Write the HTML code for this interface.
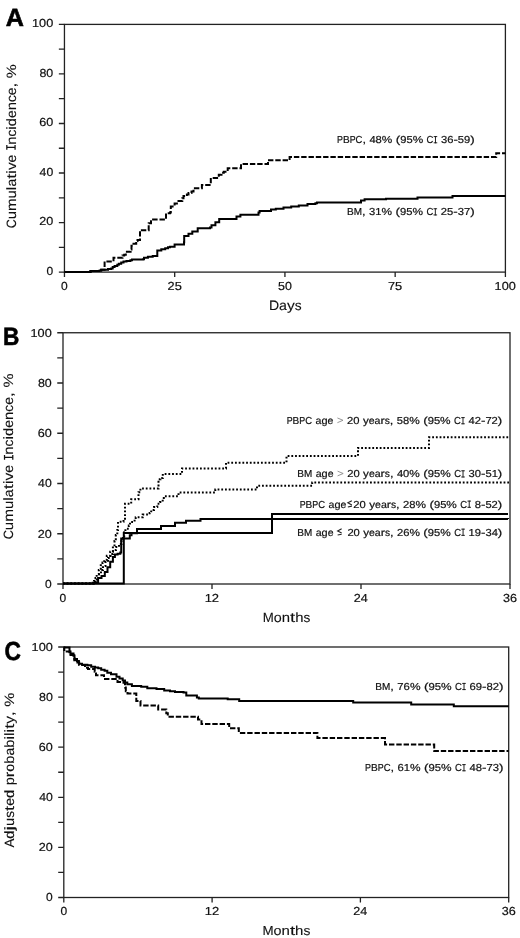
<!DOCTYPE html>
<html><head><meta charset="utf-8"><style>
html,body{margin:0;padding:0;background:#fff;}
svg{display:block;}
text{font-family:"Liberation Sans", sans-serif;text-rendering:geometricPrecision;}
svg{will-change:transform;}
</style></head><body>
<svg width="520" height="938" viewBox="0 0 520 938">
<rect width="520" height="938" fill="#fff"/>
<rect x="64.45" y="24.4" width="440.95" height="247.70" fill="none" stroke="#222" stroke-width="1.3"/>
<path d="M58.85,272.10H64.45M58.85,247.33H64.45M58.85,222.56H64.45M58.85,197.79H64.45M58.85,173.02H64.45M58.85,148.25H64.45M58.85,123.48H64.45M58.85,98.71H64.45M58.85,73.94H64.45M58.85,49.17H64.45M58.85,24.40H64.45M64.45,272.10V277.10M174.69,272.10V277.10M284.93,272.10V277.10M395.16,272.10V277.10M505.40,272.10V277.10" stroke="#222" stroke-width="1.3" fill="none"/>
<rect x="63.0" y="332.75" width="447.00" height="251.25" fill="none" stroke="#222" stroke-width="1.3"/>
<path d="M57.25,584.00H63.00M57.25,558.88H63.00M57.25,533.75H63.00M57.25,508.62H63.00M57.25,483.50H63.00M57.25,458.38H63.00M57.25,433.25H63.00M57.25,408.12H63.00M57.25,383.00H63.00M57.25,357.88H63.00M57.25,332.75H63.00M63.00,584.00V589.00M212.00,584.00V589.00M361.00,584.00V589.00M510.00,584.00V589.00" stroke="#222" stroke-width="1.3" fill="none"/>
<rect x="63.8" y="647.0" width="444.90" height="250.50" fill="none" stroke="#222" stroke-width="1.3"/>
<path d="M58.20,897.50H63.80M58.20,872.45H63.80M58.20,847.40H63.80M58.20,822.35H63.80M58.20,797.30H63.80M58.20,772.25H63.80M58.20,747.20H63.80M58.20,722.15H63.80M58.20,697.10H63.80M58.20,672.05H63.80M58.20,647.00H63.80M63.80,897.50V902.50M212.10,897.50V902.50M360.40,897.50V902.50M508.70,897.50V902.50" stroke="#222" stroke-width="1.3" fill="none"/>
<path d="M64.4,272.0H90.5V271.0H99.6V270.4H101.2V269.8H108.0V269.0H111.2V268.5H112.7V267.1H114.6V266.0H117.3V264.8H118.8V263.7H121.2V262.5H123.5V261.4H126.5V261.0H130.4V260.2H132.0V259.5H143.0V259.2H144.0V257.8H147.9V256.8H152.7V255.9H157.3V250.6H161.3V249.2H165.2V248.2H168.0V247.2H170.0V246.7H174.6V244.4H184.0V242.2H184.2V236.0H188.5V233.7H192.3V231.4H197.7V228.2H210.0V227.5H211.5V225.2H215.4V222.2H219.2V219.0H236.5V216.4H240.4V214.8H258.5V212.5H259.6V211.0H271.0V209.4H275.8V208.7H283.5V207.4H291.2V206.4H298.8V205.6H307.5V204.0H315.4V203.2H317.0V202.5H361.0V200.4H364.6V199.2H386.0V198.8H417.5V197.4H452.5V196.0H505.4V196.0" fill="none" stroke="#000" stroke-width="2"/>
<path d="M64.4,272.0H90.5V271.0H99.6V270.4H101.2V269.8H104.6V261.4H113.5V257.7H122.5V255.4H124.2V254.8H125.8V251.7H130.6V249.6H131.5V245.8H133.5V243.7H136.2V241.0H137.5V240.0H140.0V230.2H148.7V223.3H151.0V221.2H153.1V219.6H166.0V213.2H170.0V212.5H170.8V206.4H174.6V203.4H178.5V201.0H182.3V198.2H183.5V196.0H186.9V194.4H188.5V192.9H191.5V191.4H193.5V188.3H201.9V185.0H210.8V177.9H218.8V174.8H221.5V172.7H223.8V171.7H227.7V168.2H241.0V164.0H268.0V160.2H289.6V156.9H496.2V153.3H505.4V153.3" fill="none" stroke="#000" stroke-width="2" stroke-dasharray="5.4 1.9" stroke-dashoffset="5.80"/>
<path d="M63.0,583.6H94.0V581.0H95.5V578.0H96.7V574.6H98.8V569.9H100.8V565.2H102.5V562.5H104.2V559.8H106.8V555.8H110.2V551.7H112.9V546.3H114.5V541.0H115.8V535.0H117.3V530.0H118.0V521.8H123.5V520.0H125.0V503.8H131.2V499.2H138.5V492.3H140.4V488.5H158.5V479.2H160.5V478.0H162.8V474.0H182.0V468.5H226.0V462.7H286.5V456.0H358.0V447.9H429.0V437.3H509.2V437.3" fill="none" stroke="#000" stroke-width="2" stroke-dasharray="1.8 1.91" stroke-dashoffset="0.20"/>
<path d="M63.0,583.6H95.0V582.0H97.0V578.0H99.0V574.0H101.0V570.0H103.0V566.0H105.5V562.0H108.0V558.0H110.5V554.0H113.0V550.0H116.0V547.0H119.0V544.0H121.5V541.0H123.0V538.0H124.2V532.3H125.4V528.8H128.8V525.4H130.0V521.9H134.6V519.6H135.7V517.3H142.7V514.6H149.6V513.0H151.2V510.0H154.0V507.0H157.3V503.8H160.0V502.0H162.7V499.0H163.8V496.3H178.5V492.5H215.3V489.6H257.0V485.8H312.2V482.5H509.0V482.5" fill="none" stroke="#000" stroke-width="2" stroke-dasharray="1.8 1.91" stroke-dashoffset="3.69"/>
<path d="M63.0,583.6H123.8V533.0H272.0V514.0H508.0V514.0" fill="none" stroke="#000" stroke-width="2"/>
<path d="M63.0,583.6H92.7V582.7H98.1V578.0H101.5V576.0H104.8V571.9H107.5V567.2H110.2V561.8H112.9V557.1H114.9V554.4H117.6V553.7H120.3V552.4H121.2V538.6H129.8V535.2H131.5V533.2H137.0V529.0H161.0V526.0H175.0V522.8H186.0V520.8H200.5V518.9H508.0V519.1" fill="none" stroke="#000" stroke-width="2"/>
<path d="M63.8,647.4H69.5V651.5H70.5V653.5H73.5V655.5H74.5V659.0H77.0V661.0H78.9V663.7H82.0V664.7H87.4V665.3H91.2V666.7H95.0V667.5H98.2V668.3H101.2V669.7H104.6V670.7H107.3V672.8H111.0V674.3H116.5V676.7H119.5V678.5H122.7V680.5H125.0V682.5H127.3V684.3H131.9V685.9H141.2V686.7H147.3V688.2H156.5V689.0H164.2V690.5H170.0V691.3H175.0V692.0H183.5V692.6H186.3V695.5H196.9V697.4H198.8V698.4H227.7V699.3H239.2V700.9H353.2V702.6H411.2V704.4H453.8V706.3H508.7V706.3" fill="none" stroke="#000" stroke-width="2"/>
<path d="M63.8,647.4H64.3V651.6H69.5V655.1H73.6V658.0H74.3V660.3H77.4V662.5H79.2V665.1H85.0V667.8H88.0V669.0H94.7V671.7H96.0V675.3H104.0V679.0H117.5V682.0H123.5V682.8H125.0V687.4H125.8V691.3H127.5V693.5H136.3V701.0H140.5V705.5H158.2V709.5H166.3V713.3H167.8V716.7H196.0V716.7H198.0V719.5H201.5V724.0H229.2V728.2H238.8V732.9H317.4V738.0H385.0V744.4H434.2V751.0H508.7V751.0" fill="none" stroke="#000" stroke-width="2" stroke-dasharray="5.4 1.9" stroke-dashoffset="1.20"/>
<text transform="translate(6.10,25.60) translate(-0.39,0) scale(1.0110,1)" font-size="24.89" font-weight="bold" fill="#000" stroke="#000" stroke-width="0.6">A</text>
<text transform="translate(4.30,344.60) translate(-1.41,0) scale(0.9045,1)" font-size="25.03" font-weight="bold" fill="#000" stroke="#000" stroke-width="0.6">B</text>
<text transform="translate(5.20,660.20) translate(-0.71,0) scale(0.8750,1)" font-size="26.03" font-weight="bold" fill="#000" stroke="#000" stroke-width="0.6">C</text>
<path transform="translate(337.80,143.26)" d="M97.67,-7.12V0M95.91,-6.66H99.43M95.91,-0.46H99.43" fill="none" stroke="#111" stroke-width="0.93"/>
<g transform="translate(337.80,143.26)" font-size="10.13" fill="#111" stroke="#111" stroke-width="0.2"><text transform="translate(-0.69,0) scale(0.872,1)">P</text><text transform="translate(5.20,0) scale(0.993,1)">B</text><text transform="translate(11.91,0) scale(0.872,1)">P</text><text transform="translate(17.80,0) scale(0.933,1)">C</text><text transform="translate(24.62,0) scale(1.264,1)">,</text><text transform="translate(31.61,0) scale(1.103,1)">4</text><text transform="translate(37.82,0) scale(1.103,1)">8</text><text transform="translate(44.04,0) scale(1.167,1)">%</text><text transform="translate(57.98,0) scale(1.316,1)">(</text><text transform="translate(62.42,0) scale(1.103,1)">9</text><text transform="translate(68.63,0) scale(1.103,1)">5</text><text transform="translate(74.85,0) scale(1.167,1)">%</text><text transform="translate(88.79,0) scale(0.933,1)">C</text><text transform="translate(103.17,0) scale(1.103,1)">3</text><text transform="translate(109.38,0) scale(1.103,1)">6</text><text transform="translate(115.59,0) scale(1.316,1)">-</text><text transform="translate(120.03,0) scale(1.103,1)">5</text><text transform="translate(126.24,0) scale(1.103,1)">9</text><text transform="translate(132.45,0) scale(1.316,1)">)</text></g>
<path transform="translate(347.80,215.41)" d="M87.53,-7.12V0M85.76,-6.65H89.30M85.76,-0.47H89.30" fill="none" stroke="#111" stroke-width="0.93"/>
<g transform="translate(347.80,215.41)" font-size="10.13" fill="#111" stroke="#111" stroke-width="0.2"><text transform="translate(-0.79,0) scale(0.996,1)">B</text><text transform="translate(5.94,0) scale(0.980,1)">M</text><text transform="translate(14.21,0) scale(1.268,1)">,</text><text transform="translate(21.22,0) scale(1.107,1)">3</text><text transform="translate(27.46,0) scale(1.107,1)">1</text><text transform="translate(33.69,0) scale(1.172,1)">%</text><text transform="translate(47.69,0) scale(1.321,1)">(</text><text transform="translate(52.15,0) scale(1.107,1)">9</text><text transform="translate(58.38,0) scale(1.107,1)">5</text><text transform="translate(64.62,0) scale(1.172,1)">%</text><text transform="translate(78.62,0) scale(0.936,1)">C</text><text transform="translate(93.04,0) scale(1.107,1)">2</text><text transform="translate(99.28,0) scale(1.107,1)">5</text><text transform="translate(105.51,0) scale(1.321,1)">-</text><text transform="translate(109.97,0) scale(1.107,1)">3</text><text transform="translate(116.20,0) scale(1.107,1)">7</text><text transform="translate(122.44,0) scale(1.321,1)">)</text></g>
<path transform="translate(376.00,690.06)" d="M88.02,-7.12V0M86.24,-6.65H89.79M86.24,-0.47H89.79" fill="none" stroke="#111" stroke-width="0.94"/>
<g transform="translate(376.00,690.06)" font-size="10.13" fill="#111" stroke="#111" stroke-width="0.2"><text transform="translate(-0.79,0) scale(1.002,1)">B</text><text transform="translate(5.97,0) scale(0.985,1)">M</text><text transform="translate(14.29,0) scale(1.275,1)">,</text><text transform="translate(21.34,0) scale(1.113,1)">7</text><text transform="translate(27.61,0) scale(1.113,1)">6</text><text transform="translate(33.88,0) scale(1.178,1)">%</text><text transform="translate(47.96,0) scale(1.328,1)">(</text><text transform="translate(52.44,0) scale(1.113,1)">9</text><text transform="translate(58.71,0) scale(1.113,1)">5</text><text transform="translate(64.98,0) scale(1.178,1)">%</text><text transform="translate(79.05,0) scale(0.942,1)">C</text><text transform="translate(93.56,0) scale(1.113,1)">6</text><text transform="translate(99.83,0) scale(1.113,1)">9</text><text transform="translate(106.10,0) scale(1.328,1)">-</text><text transform="translate(110.58,0) scale(1.113,1)">8</text><text transform="translate(116.85,0) scale(1.113,1)">2</text><text transform="translate(123.12,0) scale(1.328,1)">)</text></g>
<path transform="translate(365.80,771.26)" d="M98.18,-7.12V0M96.41,-6.65H99.94M96.41,-0.47H99.94" fill="none" stroke="#111" stroke-width="0.93"/>
<g transform="translate(365.80,771.26)" font-size="10.13" fill="#111" stroke="#111" stroke-width="0.2"><text transform="translate(-0.69,0) scale(0.877,1)">P</text><text transform="translate(5.23,0) scale(0.998,1)">B</text><text transform="translate(11.97,0) scale(0.877,1)">P</text><text transform="translate(17.89,0) scale(0.938,1)">C</text><text transform="translate(24.75,0) scale(1.270,1)">,</text><text transform="translate(31.78,0) scale(1.109,1)">6</text><text transform="translate(38.02,0) scale(1.109,1)">1</text><text transform="translate(44.26,0) scale(1.173,1)">%</text><text transform="translate(58.28,0) scale(1.323,1)">(</text><text transform="translate(62.74,0) scale(1.109,1)">9</text><text transform="translate(68.99,0) scale(1.109,1)">5</text><text transform="translate(75.23,0) scale(1.173,1)">%</text><text transform="translate(89.25,0) scale(0.938,1)">C</text><text transform="translate(103.70,0) scale(1.109,1)">4</text><text transform="translate(109.94,0) scale(1.109,1)">8</text><text transform="translate(116.18,0) scale(1.323,1)">-</text><text transform="translate(120.64,0) scale(1.109,1)">7</text><text transform="translate(126.89,0) scale(1.109,1)">3</text><text transform="translate(133.13,0) scale(1.323,1)">)</text></g>
<path transform="translate(287.40,424.26)" d="M50.01,-6.30L55.61,-3.95L50.01,-1.60" fill="none" stroke="#8a8a8a" stroke-width="0.9"/>
<path transform="translate(287.40,424.26)" d="M175.59,-7.12V0M173.83,-6.65H177.35M173.83,-0.47H177.35" fill="none" stroke="#111" stroke-width="0.93"/>
<g transform="translate(287.40,424.26)" font-size="10.13" fill="#111" stroke="#111" stroke-width="0.2"><text transform="translate(-0.69,0) scale(0.874,1)">P</text><text transform="translate(5.21,0) scale(0.995,1)">B</text><text transform="translate(11.93,0) scale(0.874,1)">P</text><text transform="translate(17.84,0) scale(0.935,1)">C</text><text transform="translate(28.12,0) scale(1.045,1)">a</text><text transform="translate(34.01,0) scale(1.083,1)">g</text><text transform="translate(40.11,0) scale(1.036,1)">e</text><text transform="translate(59.68,0) scale(1.105,1)">2</text><text transform="translate(65.91,0) scale(1.105,1)">0</text><text transform="translate(75.58,0) scale(1.145,1)">y</text><text transform="translate(81.37,0) scale(1.036,1)">e</text><text transform="translate(87.21,0) scale(1.045,1)">a</text><text transform="translate(93.10,0) scale(1.240,1)">r</text><text transform="translate(97.27,0) scale(1.008,1)">s</text><text transform="translate(102.38,0) scale(1.266,1)">,</text><text transform="translate(109.38,0) scale(1.105,1)">5</text><text transform="translate(115.61,0) scale(1.105,1)">8</text><text transform="translate(121.84,0) scale(1.170,1)">%</text><text transform="translate(135.81,0) scale(1.319,1)">(</text><text transform="translate(140.26,0) scale(1.105,1)">9</text><text transform="translate(146.49,0) scale(1.105,1)">5</text><text transform="translate(152.71,0) scale(1.170,1)">%</text><text transform="translate(166.69,0) scale(0.935,1)">C</text><text transform="translate(181.09,0) scale(1.105,1)">4</text><text transform="translate(187.32,0) scale(1.105,1)">2</text><text transform="translate(193.55,0) scale(1.319,1)">-</text><text transform="translate(197.99,0) scale(1.105,1)">7</text><text transform="translate(204.22,0) scale(1.105,1)">2</text><text transform="translate(210.44,0) scale(1.319,1)">)</text></g>
<path transform="translate(298.10,477.46)" d="M39.48,-6.30L45.08,-3.95L39.48,-1.60" fill="none" stroke="#8a8a8a" stroke-width="0.9"/>
<path transform="translate(298.10,477.46)" d="M164.93,-7.12V0M163.17,-6.66H166.69M163.17,-0.46H166.69" fill="none" stroke="#111" stroke-width="0.93"/>
<g transform="translate(298.10,477.46)" font-size="10.13" fill="#111" stroke="#111" stroke-width="0.2"><text transform="translate(-0.79,0) scale(0.994,1)">B</text><text transform="translate(5.93,0) scale(0.978,1)">M</text><text transform="translate(17.61,0) scale(1.044,1)">a</text><text transform="translate(23.49,0) scale(1.082,1)">g</text><text transform="translate(29.59,0) scale(1.035,1)">e</text><text transform="translate(49.14,0) scale(1.104,1)">2</text><text transform="translate(55.36,0) scale(1.104,1)">0</text><text transform="translate(65.02,0) scale(1.144,1)">y</text><text transform="translate(70.81,0) scale(1.035,1)">e</text><text transform="translate(76.64,0) scale(1.044,1)">a</text><text transform="translate(82.52,0) scale(1.238,1)">r</text><text transform="translate(86.70,0) scale(1.007,1)">s</text><text transform="translate(91.79,0) scale(1.265,1)">,</text><text transform="translate(98.79,0) scale(1.104,1)">4</text><text transform="translate(105.01,0) scale(1.104,1)">0</text><text transform="translate(111.23,0) scale(1.169,1)">%</text><text transform="translate(125.19,0) scale(1.317,1)">(</text><text transform="translate(129.64,0) scale(1.104,1)">9</text><text transform="translate(135.86,0) scale(1.104,1)">5</text><text transform="translate(142.08,0) scale(1.169,1)">%</text><text transform="translate(156.04,0) scale(0.934,1)">C</text><text transform="translate(170.43,0) scale(1.104,1)">3</text><text transform="translate(176.65,0) scale(1.104,1)">0</text><text transform="translate(182.87,0) scale(1.317,1)">-</text><text transform="translate(187.31,0) scale(1.104,1)">5</text><text transform="translate(193.53,0) scale(1.104,1)">1</text><text transform="translate(199.75,0) scale(1.317,1)">)</text></g>
<path transform="translate(300.40,507.76)" d="M51.45,-7.00L47.45,-4.90L51.45,-2.80M47.45,-0.80L51.45,-1.60" fill="none" stroke="#222" stroke-width="1.1"/>
<path transform="translate(300.40,507.76)" d="M168.83,-7.12V0M167.07,-6.66H170.59M167.07,-0.46H170.59" fill="none" stroke="#111" stroke-width="0.93"/>
<g transform="translate(300.40,507.76)" font-size="10.13" fill="#111" stroke="#111" stroke-width="0.2"><text transform="translate(-0.69,0) scale(0.874,1)">P</text><text transform="translate(5.21,0) scale(0.994,1)">B</text><text transform="translate(11.93,0) scale(0.874,1)">P</text><text transform="translate(17.83,0) scale(0.935,1)">C</text><text transform="translate(28.11,0) scale(1.045,1)">a</text><text transform="translate(33.99,0) scale(1.083,1)">g</text><text transform="translate(40.09,0) scale(1.035,1)">e</text><text transform="translate(52.97,0) scale(1.105,1)">2</text><text transform="translate(59.19,0) scale(1.105,1)">0</text><text transform="translate(68.86,0) scale(1.144,1)">y</text><text transform="translate(74.65,0) scale(1.035,1)">e</text><text transform="translate(80.48,0) scale(1.045,1)">a</text><text transform="translate(86.37,0) scale(1.239,1)">r</text><text transform="translate(90.55,0) scale(1.007,1)">s</text><text transform="translate(95.65,0) scale(1.266,1)">,</text><text transform="translate(102.65,0) scale(1.105,1)">2</text><text transform="translate(108.87,0) scale(1.105,1)">8</text><text transform="translate(115.10,0) scale(1.170,1)">%</text><text transform="translate(129.07,0) scale(1.318,1)">(</text><text transform="translate(133.51,0) scale(1.105,1)">9</text><text transform="translate(139.74,0) scale(1.105,1)">5</text><text transform="translate(145.96,0) scale(1.170,1)">%</text><text transform="translate(159.93,0) scale(0.935,1)">C</text><text transform="translate(174.33,0) scale(1.105,1)">8</text><text transform="translate(180.55,0) scale(1.318,1)">-</text><text transform="translate(185.00,0) scale(1.105,1)">5</text><text transform="translate(191.22,0) scale(1.105,1)">2</text><text transform="translate(197.45,0) scale(1.318,1)">)</text></g>
<path transform="translate(298.10,535.81)" d="M43.54,-7.00L39.54,-4.90L43.54,-2.80M39.54,-0.80L43.54,-1.60" fill="none" stroke="#222" stroke-width="1.1"/>
<path transform="translate(298.10,535.81)" d="M164.97,-7.12V0M163.21,-6.66H166.73M163.21,-0.46H166.73" fill="none" stroke="#111" stroke-width="0.93"/>
<g transform="translate(298.10,535.81)" font-size="10.13" fill="#111" stroke="#111" stroke-width="0.2"><text transform="translate(-0.79,0) scale(0.993,1)">B</text><text transform="translate(5.92,0) scale(0.977,1)">M</text><text transform="translate(17.59,0) scale(1.043,1)">a</text><text transform="translate(23.47,0) scale(1.081,1)">g</text><text transform="translate(29.56,0) scale(1.034,1)">e</text><text transform="translate(49.29,0) scale(1.103,1)">2</text><text transform="translate(55.50,0) scale(1.103,1)">0</text><text transform="translate(65.15,0) scale(1.142,1)">y</text><text transform="translate(70.94,0) scale(1.034,1)">e</text><text transform="translate(76.76,0) scale(1.043,1)">a</text><text transform="translate(82.64,0) scale(1.237,1)">r</text><text transform="translate(86.81,0) scale(1.006,1)">s</text><text transform="translate(91.90,0) scale(1.264,1)">,</text><text transform="translate(98.89,0) scale(1.103,1)">2</text><text transform="translate(105.11,0) scale(1.103,1)">6</text><text transform="translate(111.32,0) scale(1.168,1)">%</text><text transform="translate(125.27,0) scale(1.316,1)">(</text><text transform="translate(129.71,0) scale(1.103,1)">9</text><text transform="translate(135.92,0) scale(1.103,1)">5</text><text transform="translate(142.13,0) scale(1.168,1)">%</text><text transform="translate(156.08,0) scale(0.933,1)">C</text><text transform="translate(170.46,0) scale(1.103,1)">1</text><text transform="translate(176.67,0) scale(1.103,1)">9</text><text transform="translate(182.89,0) scale(1.316,1)">-</text><text transform="translate(187.32,0) scale(1.103,1)">3</text><text transform="translate(193.54,0) scale(1.103,1)">4</text><text transform="translate(199.75,0) scale(1.316,1)">)</text></g>
<g transform="translate(270.00,309.60)" font-size="13.65" fill="#111" stroke="#111" stroke-width="0.1"><text transform="translate(-1.10,0) scale(1.030,1)">D</text><text transform="translate(9.06,0) scale(1.043,1)">a</text><text transform="translate(16.97,0) scale(1.142,1)">y</text><text transform="translate(24.77,0) scale(1.005,1)">s</text></g>
<g transform="translate(263.80,621.70)" font-size="13.51" fill="#111" stroke="#111" stroke-width="0.1"><text transform="translate(-1.04,0) scale(0.981,1)">M</text><text transform="translate(10.01,0) scale(1.058,1)">o</text><text transform="translate(17.96,0) scale(1.103,1)">n</text><text transform="translate(26.25,0) scale(1.375,1)">t</text><text transform="translate(31.41,0) scale(1.103,1)">h</text><text transform="translate(39.70,0) scale(1.010,1)">s</text></g>
<g transform="translate(263.50,934.60)" font-size="13.08" fill="#111" stroke="#111" stroke-width="0.1"><text transform="translate(-1.04,0) scale(1.020,1)">M</text><text transform="translate(10.07,0) scale(1.100,1)">o</text><text transform="translate(18.07,0) scale(1.147,1)">n</text><text transform="translate(26.42,0) scale(1.429,1)">t</text><text transform="translate(31.61,0) scale(1.147,1)">h</text><text transform="translate(39.96,0) scale(1.050,1)">s</text></g>
<path transform="translate(15.70,227.70) rotate(-90)" d="M80.30,-9.50V0M77.96,-8.88H82.64M77.96,-0.62H82.64" fill="none" stroke="#111" stroke-width="1.23"/>
<g transform="translate(15.70,227.70) rotate(-90)" font-size="13.51" fill="#111" stroke="#111" stroke-width="0.1"><text transform="translate(-0.59,0) scale(0.929,1)">C</text><text transform="translate(8.48,0) scale(1.093,1)">u</text><text transform="translate(16.69,0) scale(1.122,1)">m</text><text transform="translate(29.32,0) scale(1.093,1)">u</text><text transform="translate(37.54,0) scale(1.187,1)">l</text><text transform="translate(41.10,0) scale(1.039,1)">a</text><text transform="translate(48.91,0) scale(1.363,1)">t</text><text transform="translate(54.02,0) scale(1.187,1)">i</text><text transform="translate(57.58,0) scale(1.137,1)">v</text><text transform="translate(65.27,0) scale(1.029,1)">e</text><text transform="translate(83.03,0) scale(1.093,1)">n</text><text transform="translate(91.25,0) scale(1.001,1)">c</text><text transform="translate(98.01,0) scale(1.187,1)">i</text><text transform="translate(101.57,0) scale(1.076,1)">d</text><text transform="translate(109.66,0) scale(1.029,1)">e</text><text transform="translate(117.40,0) scale(1.093,1)">n</text><text transform="translate(125.61,0) scale(1.001,1)">c</text><text transform="translate(132.38,0) scale(1.029,1)">e</text><text transform="translate(140.11,0) scale(1.258,1)">,</text><text transform="translate(149.40,0) scale(1.163,1)">%</text></g>
<path transform="translate(13.40,538.75) rotate(-90)" d="M81.26,-9.50V0M78.90,-8.88H83.63M78.90,-0.62H83.63" fill="none" stroke="#111" stroke-width="1.25"/>
<g transform="translate(13.40,538.75) rotate(-90)" font-size="13.51" fill="#111" stroke="#111" stroke-width="0.1"><text transform="translate(-0.60,0) scale(0.940,1)">C</text><text transform="translate(8.58,0) scale(1.106,1)">u</text><text transform="translate(16.89,0) scale(1.136,1)">m</text><text transform="translate(29.67,0) scale(1.106,1)">u</text><text transform="translate(37.99,0) scale(1.201,1)">l</text><text transform="translate(41.59,0) scale(1.051,1)">a</text><text transform="translate(49.49,0) scale(1.379,1)">t</text><text transform="translate(54.67,0) scale(1.201,1)">i</text><text transform="translate(58.27,0) scale(1.151,1)">v</text><text transform="translate(66.05,0) scale(1.042,1)">e</text><text transform="translate(84.03,0) scale(1.106,1)">n</text><text transform="translate(92.34,0) scale(1.013,1)">c</text><text transform="translate(99.19,0) scale(1.201,1)">i</text><text transform="translate(102.79,0) scale(1.089,1)">d</text><text transform="translate(110.98,0) scale(1.042,1)">e</text><text transform="translate(118.80,0) scale(1.106,1)">n</text><text transform="translate(127.12,0) scale(1.013,1)">c</text><text transform="translate(133.96,0) scale(1.042,1)">e</text><text transform="translate(141.79,0) scale(1.273,1)">,</text><text transform="translate(151.19,0) scale(1.176,1)">%</text></g>
<g transform="translate(14.35,847.60) rotate(-90)" font-size="13.51" fill="#111" stroke="#111" stroke-width="0.1"><text transform="translate(0.00,0) scale(0.991,1)">A</text><text transform="translate(8.93,0) scale(1.082,1)">d</text><text transform="translate(17.06,0) scale(1.497,1)">j</text><text transform="translate(21.55,0) scale(1.099,1)">u</text><text transform="translate(29.81,0) scale(1.007,1)">s</text><text transform="translate(36.61,0) scale(1.370,1)">t</text><text transform="translate(41.75,0) scale(1.035,1)">e</text><text transform="translate(49.53,0) scale(1.082,1)">d</text><text transform="translate(62.25,0) scale(1.082,1)">p</text><text transform="translate(70.38,0) scale(1.238,1)">r</text><text transform="translate(75.95,0) scale(1.054,1)">o</text><text transform="translate(83.87,0) scale(1.082,1)">b</text><text transform="translate(92.00,0) scale(1.044,1)">a</text><text transform="translate(99.85,0) scale(1.082,1)">b</text><text transform="translate(107.98,0) scale(1.193,1)">i</text><text transform="translate(111.56,0) scale(1.193,1)">l</text><text transform="translate(115.14,0) scale(1.193,1)">i</text><text transform="translate(118.73,0) scale(1.370,1)">t</text><text transform="translate(123.87,0) scale(1.143,1)">y</text><text transform="translate(131.59,0) scale(1.265,1)">,</text><text transform="translate(140.93,0) scale(1.169,1)">%</text></g>
<text transform="translate(46.90,275.00) translate(-0.38,0) scale(1.0290,1)" font-size="11.66" fill="#111" stroke="#111" stroke-width="0.2">0</text>
<g transform="translate(39.80,225.46)" font-size="11.66" fill="#111" stroke="#111" stroke-width="0.2"><text transform="translate(-0.59,0) scale(1.080,1)">2</text><text transform="translate(6.41,0) scale(1.080,1)">0</text></g>
<g transform="translate(39.80,175.92)" font-size="11.66" fill="#111" stroke="#111" stroke-width="0.2"><text transform="translate(-0.19,0) scale(1.048,1)">4</text><text transform="translate(6.61,0) scale(1.048,1)">0</text></g>
<g transform="translate(39.80,126.38)" font-size="11.66" fill="#111" stroke="#111" stroke-width="0.2"><text transform="translate(-0.59,0) scale(1.080,1)">6</text><text transform="translate(6.41,0) scale(1.080,1)">0</text></g>
<g transform="translate(39.80,76.84)" font-size="11.66" fill="#111" stroke="#111" stroke-width="0.2"><text transform="translate(-0.39,0) scale(1.064,1)">8</text><text transform="translate(6.51,0) scale(1.064,1)">0</text></g>
<g transform="translate(32.80,27.30)" font-size="11.66" fill="#111" stroke="#111" stroke-width="0.2"><text transform="translate(-0.79,0) scale(1.090,1)">1</text><text transform="translate(6.28,0) scale(1.090,1)">0</text><text transform="translate(13.35,0) scale(1.090,1)">0</text></g>
<text transform="translate(61.45,289.70) translate(-0.38,0) scale(1.0290,1)" font-size="11.66" fill="#111" stroke="#111" stroke-width="0.2">0</text>
<g transform="translate(168.14,289.70)" font-size="11.66" fill="#111" stroke="#111" stroke-width="0.2"><text transform="translate(-0.60,0) scale(1.096,1)">2</text><text transform="translate(6.51,0) scale(1.096,1)">5</text></g>
<g transform="translate(278.38,289.70)" font-size="11.66" fill="#111" stroke="#111" stroke-width="0.2"><text transform="translate(-0.39,0) scale(1.064,1)">5</text><text transform="translate(6.51,0) scale(1.064,1)">0</text></g>
<g transform="translate(388.61,289.70)" font-size="11.66" fill="#111" stroke="#111" stroke-width="0.2"><text transform="translate(-0.60,0) scale(1.096,1)">7</text><text transform="translate(6.51,0) scale(1.096,1)">5</text></g>
<g transform="translate(495.35,289.70)" font-size="11.66" fill="#111" stroke="#111" stroke-width="0.2"><text transform="translate(-0.79,0) scale(1.090,1)">1</text><text transform="translate(6.28,0) scale(1.090,1)">0</text><text transform="translate(13.35,0) scale(1.090,1)">0</text></g>
<text transform="translate(45.40,587.90) translate(-0.38,0) scale(1.0290,1)" font-size="11.66" fill="#111" stroke="#111" stroke-width="0.2">0</text>
<g transform="translate(38.30,537.65)" font-size="11.66" fill="#111" stroke="#111" stroke-width="0.2"><text transform="translate(-0.59,0) scale(1.080,1)">2</text><text transform="translate(6.41,0) scale(1.080,1)">0</text></g>
<g transform="translate(38.30,487.40)" font-size="11.66" fill="#111" stroke="#111" stroke-width="0.2"><text transform="translate(-0.19,0) scale(1.048,1)">4</text><text transform="translate(6.61,0) scale(1.048,1)">0</text></g>
<g transform="translate(38.30,437.15)" font-size="11.66" fill="#111" stroke="#111" stroke-width="0.2"><text transform="translate(-0.59,0) scale(1.080,1)">6</text><text transform="translate(6.41,0) scale(1.080,1)">0</text></g>
<g transform="translate(38.30,386.90)" font-size="11.66" fill="#111" stroke="#111" stroke-width="0.2"><text transform="translate(-0.39,0) scale(1.064,1)">8</text><text transform="translate(6.51,0) scale(1.064,1)">0</text></g>
<g transform="translate(31.30,336.65)" font-size="11.66" fill="#111" stroke="#111" stroke-width="0.2"><text transform="translate(-0.79,0) scale(1.090,1)">1</text><text transform="translate(6.28,0) scale(1.090,1)">0</text><text transform="translate(13.35,0) scale(1.090,1)">0</text></g>
<text transform="translate(60.00,601.60) translate(-0.38,0) scale(1.0290,1)" font-size="11.66" fill="#111" stroke="#111" stroke-width="0.2">0</text>
<g transform="translate(205.45,601.60)" font-size="11.66" fill="#111" stroke="#111" stroke-width="0.2"><text transform="translate(-0.81,0) scale(1.113,1)">1</text><text transform="translate(6.41,0) scale(1.113,1)">2</text></g>
<g transform="translate(354.45,601.60)" font-size="11.66" fill="#111" stroke="#111" stroke-width="0.2"><text transform="translate(-0.59,0) scale(1.080,1)">2</text><text transform="translate(6.41,0) scale(1.080,1)">4</text></g>
<g transform="translate(503.45,601.60)" font-size="11.66" fill="#111" stroke="#111" stroke-width="0.2"><text transform="translate(-0.39,0) scale(1.080,1)">3</text><text transform="translate(6.61,0) scale(1.080,1)">6</text></g>
<text transform="translate(46.50,901.10) translate(-0.38,0) scale(1.0290,1)" font-size="11.66" fill="#111" stroke="#111" stroke-width="0.2">0</text>
<g transform="translate(39.40,851.00)" font-size="11.66" fill="#111" stroke="#111" stroke-width="0.2"><text transform="translate(-0.59,0) scale(1.080,1)">2</text><text transform="translate(6.41,0) scale(1.080,1)">0</text></g>
<g transform="translate(39.40,800.90)" font-size="11.66" fill="#111" stroke="#111" stroke-width="0.2"><text transform="translate(-0.19,0) scale(1.048,1)">4</text><text transform="translate(6.61,0) scale(1.048,1)">0</text></g>
<g transform="translate(39.40,750.80)" font-size="11.66" fill="#111" stroke="#111" stroke-width="0.2"><text transform="translate(-0.59,0) scale(1.080,1)">6</text><text transform="translate(6.41,0) scale(1.080,1)">0</text></g>
<g transform="translate(39.40,700.70)" font-size="11.66" fill="#111" stroke="#111" stroke-width="0.2"><text transform="translate(-0.39,0) scale(1.064,1)">8</text><text transform="translate(6.51,0) scale(1.064,1)">0</text></g>
<g transform="translate(32.40,650.60)" font-size="11.66" fill="#111" stroke="#111" stroke-width="0.2"><text transform="translate(-0.79,0) scale(1.090,1)">1</text><text transform="translate(6.28,0) scale(1.090,1)">0</text><text transform="translate(13.35,0) scale(1.090,1)">0</text></g>
<text transform="translate(60.80,915.10) translate(-0.38,0) scale(1.0290,1)" font-size="11.66" fill="#111" stroke="#111" stroke-width="0.2">0</text>
<g transform="translate(205.55,915.10)" font-size="11.66" fill="#111" stroke="#111" stroke-width="0.2"><text transform="translate(-0.81,0) scale(1.113,1)">1</text><text transform="translate(6.41,0) scale(1.113,1)">2</text></g>
<g transform="translate(353.85,915.10)" font-size="11.66" fill="#111" stroke="#111" stroke-width="0.2"><text transform="translate(-0.59,0) scale(1.080,1)">2</text><text transform="translate(6.41,0) scale(1.080,1)">4</text></g>
<g transform="translate(502.15,915.10)" font-size="11.66" fill="#111" stroke="#111" stroke-width="0.2"><text transform="translate(-0.39,0) scale(1.080,1)">3</text><text transform="translate(6.61,0) scale(1.080,1)">6</text></g>
</svg>
</body></html>
